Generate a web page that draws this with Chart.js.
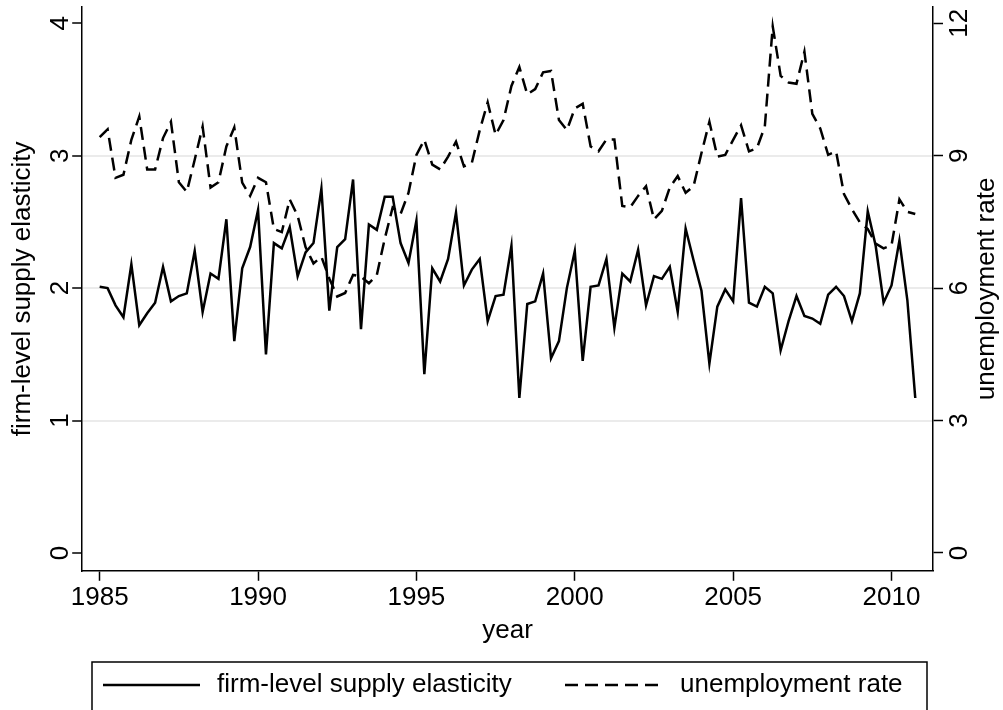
<!DOCTYPE html>
<html>
<head>
<meta charset="utf-8">
<title>Firm-level supply elasticity and unemployment</title>
<script src="https://cdn.jsdelivr.net/npm/chart.js@4.4.1/dist/chart.umd.min.js"></script>
<style>
    html, body { margin: 0; padding: 0; background: #fff; }
    #chart { display: block; }
</style>
</head>
<body>
<canvas id="chart" width="1003" height="710"></canvas>
<script>
/* Quarterly series, 1985q1 - 2010q4 */

const firstYear = 1985;

// firm-level supply elasticity (left axis), one row per year
const elasticity = [
    2.01, 2.00, 1.87, 1.78,   // 1985
    2.18, 1.72, 1.81, 1.89,   // 1986
    2.16, 1.90, 1.94, 1.96,   // 1987
    2.28, 1.82, 2.11, 2.07,   // 1988
    2.52, 1.60, 2.15, 2.31,   // 1989
    2.59, 1.50, 2.34, 2.30,   // 1990
    2.46, 2.09, 2.27, 2.34,   // 1991
    2.75, 1.83, 2.31, 2.37,   // 1992
    2.82, 1.69, 2.48, 2.44,   // 1993
    2.69, 2.69, 2.34, 2.19,   // 1994
    2.51, 1.35, 2.15, 2.05,   // 1995
    2.22, 2.57, 2.02, 2.14,   // 1996
    2.22, 1.75, 1.94, 1.95,   // 1997
    2.32, 1.17, 1.88, 1.90,   // 1998
    2.11, 1.47, 1.60, 2.00,   // 1999
    2.28, 1.45, 2.01, 2.02,   // 2000
    2.22, 1.70, 2.11, 2.05,   // 2001
    2.29, 1.87, 2.09, 2.07,   // 2002
    2.16, 1.82, 2.45, 2.21,   // 2003
    1.98, 1.43, 1.86, 1.99,   // 2004
    1.90, 2.68, 1.89, 1.86,   // 2005
    2.01, 1.96, 1.53, 1.75,   // 2006
    1.94, 1.79, 1.77, 1.73,   // 2007
    1.95, 2.01, 1.94, 1.75,   // 2008
    1.96, 2.58, 2.32, 1.89,   // 2009
    2.02, 2.36, 1.91, 1.17    // 2010
];

// unemployment rate (right axis)
const unemployment = [
    9.42, 9.60, 8.50, 8.57,   // 1985
    9.36, 9.89, 8.69, 8.69,   // 1986
    9.40, 9.77, 8.40, 8.18,   // 1987
    8.91, 9.66, 8.28, 8.40,   // 1988
    9.21, 9.64, 8.39, 8.09,   // 1989
    8.50, 8.40, 7.34, 7.27,   // 1990
    8.01, 7.64, 6.93, 6.56,   // 1991
    6.71, 6.22, 5.81, 5.89,   // 1992
    6.30, 6.26, 6.11, 6.30,   // 1993
    7.12, 7.83, 7.68, 8.16,   // 1994
    9.02, 9.36, 8.80, 8.69,   // 1995
    8.98, 9.32, 8.76, 8.84,   // 1996
    9.58, 10.21, 9.47, 9.81,  // 1997
    10.58, 11.01, 10.39, 10.51, // 1998
    10.89, 10.92, 9.81, 9.58, // 1999
    10.07, 10.18, 9.21, 9.10, // 2000
    9.37, 9.37, 7.86, 7.83,   // 2001
    8.09, 8.31, 7.56, 7.75,   // 2002
    8.28, 8.54, 8.16, 8.31,   // 2003
    9.06, 9.77, 8.98, 9.02,   // 2004
    9.36, 9.69, 9.10, 9.17,   // 2005
    9.66, 11.93, 10.81, 10.66, // 2006
    10.63, 11.36, 9.95, 9.62, // 2007
    9.02, 9.10, 8.13, 7.79,   // 2008
    7.49, 7.34, 7.01, 6.90,   // 2009
    6.97, 8.01, 7.73, 7.68    // 2010
];

const xTicks = [1985, 1990, 1995, 2000, 2005, 2010];
const leftTicks = [0, 1, 2, 3, 4];
const rightTicks = [0, 3, 6, 9, 12];
const gridValues = [1, 2, 3];

const seriesLabels = ['firm-level supply elasticity', 'unemployment rate'];
const axisTitles = { x: 'year', left: 'firm-level supply elasticity', right: 'unemployment rate' };

const FONT = 'Liberation Sans, Arial, Helvetica, sans-serif';
const FONT_SIZE = 26;

function toPoints(values) {
    return values.map((v, i) => ({ x: firstYear + i / 4, y: v }));
}

function fixedTicks(list) {
    return function(axis) {
        axis.ticks = list.map(v => ({ value: v }));
    };
}

function drawRotated(ctx, text, x, y, baseline) {
    ctx.save();
    ctx.translate(x, y);
    ctx.rotate(-Math.PI / 2);
    ctx.textAlign = 'center';
    ctx.textBaseline = baseline || 'alphabetic';
    ctx.fillText(text, 0, 0);
    ctx.restore();
}

// y tick labels, right title and the boxed legend, Stata style
const stataExtras = {
    id: 'stataExtras',
    afterDraw(chart) {
        const ctx = chart.ctx;
        const area = chart.chartArea;
        ctx.save();
        ctx.fillStyle = '#000';
        ctx.font = FONT_SIZE + 'px ' + FONT;

        const yL = chart.scales.y;
        yL.ticks.forEach(t => drawRotated(ctx, String(t.value), 68, yL.getPixelForValue(t.value)));
        const yR = chart.scales.y2;
        yR.ticks.forEach(t => drawRotated(ctx, String(t.value), 967, yR.getPixelForValue(t.value)));

        drawRotated(ctx, axisTitles.right, 987, (area.top + area.bottom) / 2, 'middle');

        // legend box (bottom edge runs off the picture)
        ctx.strokeStyle = '#000';
        ctx.lineWidth = 1.5;
        ctx.strokeRect(92, 662, 835, 70);

        const rowY = 685;
        const items = [
            { ds: chart.data.datasets[0], x0: 103, x1: 200, tx: 217 },
            { ds: chart.data.datasets[1], x0: 565, x1: 660, tx: 680 }
        ];
        items.forEach(it => {
            ctx.save();
            ctx.lineWidth = it.ds.borderWidth;
            ctx.setLineDash(it.ds.borderDash || []);
            ctx.beginPath();
            ctx.moveTo(it.x0, rowY);
            ctx.lineTo(it.x1, rowY);
            ctx.stroke();
            ctx.restore();
            ctx.textAlign = 'left';
            ctx.textBaseline = 'middle';
            ctx.fillText(it.ds.label, it.tx, rowY);
        });
        ctx.restore();
    }
};

const ctx = document.getElementById('chart');
new Chart(ctx, {
    type: 'line',
    data: {
        datasets: [
            {
                label: seriesLabels[0],
                data: toPoints(elasticity),
                yAxisID: 'y',
                borderColor: '#000',
                borderWidth: 2.5,
                pointRadius: 0,
                tension: 0,
                fill: false
            },
            {
                label: seriesLabels[1],
                data: toPoints(unemployment),
                yAxisID: 'y2',
                borderColor: '#000',
                borderWidth: 2.5,
                borderDash: [13, 7],
                pointRadius: 0,
                tension: 0,
                fill: false
            }
        ]
    },
    options: {
        responsive: false,
        animation: false,
        devicePixelRatio: 1,
        layout: { padding: { left: 0, right: 60, top: 7, bottom: 64 } },
        plugins: {
            legend: { display: false },
            tooltip: { enabled: false }
        },
        scales: {
            x: {
                type: 'linear',
                min: 1984.448,
                max: 2011.31,
                afterBuildTicks: fixedTicks(xTicks),
                ticks: {
                    color: '#000',
                    font: { family: FONT, size: FONT_SIZE, lineHeight: 1 },
                    padding: 4,
                    maxRotation: 0,
                    autoSkip: false,
                    callback: v => String(v)
                },
                grid: {
                    drawOnChartArea: false,
                    drawTicks: true,
                    tickLength: 10,
                    tickColor: '#000',
                    tickWidth: 1.5
                },
                border: { display: true, color: '#000', width: 1.5 },
                title: {
                    display: true,
                    text: axisTitles.x,
                    color: '#000',
                    font: { family: FONT, size: FONT_SIZE },
                    padding: { top: 0, bottom: 0 }
                }
            },
            y: {
                position: 'left',
                min: -0.135,
                max: 4.123,
                afterBuildTicks: fixedTicks(leftTicks),
                ticks: { display: false },
                grid: {
                    color: c => (c.tick && gridValues.includes(c.tick.value)) ? '#ebebeb' : 'rgba(0,0,0,0)',
                    lineWidth: 2,
                    drawTicks: true,
                    tickLength: 10,
                    tickColor: '#000',
                    tickWidth: 1.5
                },
                border: { display: true, color: '#000', width: 1.5 },
                title: {
                    display: true,
                    text: axisTitles.left,
                    color: '#000',
                    font: { family: FONT, size: FONT_SIZE },
                    padding: { top: 7, bottom: 34 }
                }
            },
            y2: {
                position: 'right',
                min: -0.405,
                max: 12.37,
                afterBuildTicks: fixedTicks(rightTicks),
                ticks: { display: false },
                grid: {
                    drawOnChartArea: false,
                    drawTicks: true,
                    tickLength: 10,
                    tickColor: '#000',
                    tickWidth: 1.5
                },
                border: { display: true, color: '#000', width: 1.5 }
            }
        }
    },
    plugins: [stataExtras]
});
</script>
</body>
</html>
